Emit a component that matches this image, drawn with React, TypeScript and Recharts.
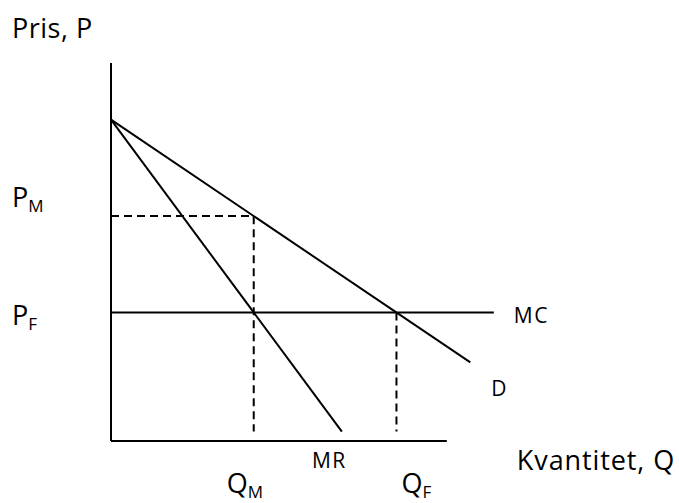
import { ComposedChart, Line, Scatter, XAxis, YAxis } from 'recharts';

// quantity / price values
const demandCurve = [
  { q: 0, p: 8.5 },
  { q: 10.7, p: 2.08 },
];
const mrCurve = [
  { q: 0, p: 8.5 },
  { q: 6.875, p: 0.25 },
];
const mcCurve = [
  { q: 0, p: 3.4 },
  { q: 11.4, p: 3.4 },
];
const yAxisLine = [
  { q: 0, p: 0 },
  { q: 0, p: 10 },
];
const xAxisLine = [
  { q: 0, p: 0 },
  { q: 10, p: 0 },
];
const monopolyGuide = [
  { q: 0, p: 5.95 },
  { q: 4.25, p: 5.95 },
  { q: 4.25, p: 0.25 },
];
const competitiveGuide = [
  { q: 8.5, p: 3.4 },
  { q: 8.5, p: 0.25 },
];

const labels = [
  { id: 'pris', q: 0, p: 10, main: 'Pris, P', sub: '' },
  { id: 'pm', q: 0, p: 5.95, main: 'P', sub: 'M' },
  { id: 'pf', q: 0, p: 3.4, main: 'P', sub: 'F' },
  { id: 'mc', q: 11.4, p: 3.4, main: 'MC', sub: '' },
  { id: 'd', q: 10.7, p: 2.08, main: 'D', sub: '' },
  { id: 'mr', q: 6.875, p: 0.25, main: 'MR', sub: '' },
  { id: 'qm', q: 4.25, p: 0, main: 'Q', sub: 'M' },
  { id: 'qf', q: 8.5, p: 0, main: 'Q', sub: 'F' },
  { id: 'kvant', q: 10, p: 0, main: 'Kvantitet, Q', sub: '' },
];

// pixel offsets from each label's anchor, and font size
const labelStyle: Record<string, { dx: number; dy: number; size: number; spacing: number }> = {
  pris: { dx: -99, dy: -25, size: 27, spacing: 0.5 },
  pm: { dx: -99, dy: -9, size: 27, spacing: 0 },
  pf: { dx: -99, dy: 13, size: 27, spacing: 0 },
  mc: { dx: 20, dy: 11, size: 21, spacing: 1.5 },
  d: { dx: 21, dy: 34, size: 21, spacing: 0 },
  mr: { dx: -30, dy: 36, size: 21, spacing: 1.5 },
  qm: { dx: -27, dy: 52, size: 27, spacing: 0 },
  qf: { dx: 5, dy: 52, size: 27, spacing: 0 },
  kvant: { dx: 70, dy: 29, size: 27, spacing: 0.9 },
};

const FONT = '"Open Sans", sans-serif';

function LabelShape(props: any) {
  const { cx, cy, payload } = props;
  const s = labelStyle[payload.id];
  return (
    <text
      x={cx + s.dx}
      y={cy + s.dy}
      fontFamily={FONT}
      fontSize={s.size}
      letterSpacing={s.spacing}
      fill="#000"
    >
      <tspan>{payload.main}</tspan>
      {payload.sub && (
        <tspan fontSize={17} dy={5}>
          {payload.sub}
        </tspan>
      )}
    </text>
  );
}

export default function App() {
  const line = { dataKey: 'p', stroke: '#000', strokeWidth: 2, dot: false, isAnimationActive: false };
  return (
    <div style={{ position: 'absolute', left: 0, top: 0, background: '#fff' }}>
      <ComposedChart width={679} height={503} margin={{ top: 63, right: 165, bottom: 62, left: 111 }}>
        <XAxis type="number" dataKey="q" domain={[0, 12]} hide />
        <YAxis type="number" dataKey="p" domain={[0, 10]} hide />
        <Line data={yAxisLine} {...line} />
        <Line data={xAxisLine} {...line} />
        <Line data={demandCurve} {...line} />
        <Line data={mrCurve} {...line} />
        <Line data={mcCurve} {...line} />
        <Line data={monopolyGuide} {...line} strokeDasharray="8 5" />
        <Line data={competitiveGuide} {...line} strokeDasharray="8 5" />
        <Scatter data={labels} dataKey="p" shape={LabelShape} isAnimationActive={false} />
      </ComposedChart>
    </div>
  );
}
